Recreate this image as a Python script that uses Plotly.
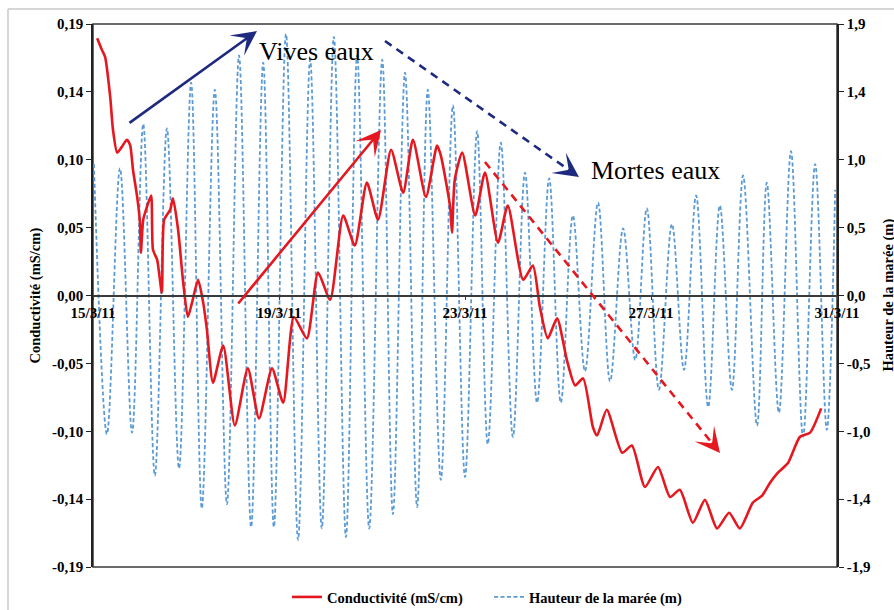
import numpy as np
import pandas as pd
import plotly.graph_objects as go

START = pd.Timestamp("2011-03-15")

# Tide height (m): successive high / low waters, time in days after 15/3/11
tide_day = [0.02, 0.30, 0.58, 0.84, 1.08, 1.33, 1.59, 1.85, 2.11, 2.34, 2.62, 2.88,
            3.14, 3.40, 3.66, 3.89, 4.15, 4.41, 4.67, 4.92, 5.18, 5.44, 5.68, 5.94,
            6.22, 6.45, 6.71, 6.97, 7.20, 7.48, 7.74, 8.00, 8.26, 8.49, 8.77, 9.03,
            9.29, 9.55, 9.81, 10.06, 10.32, 10.58, 10.86, 11.12, 11.40, 11.66, 11.91,
            12.17, 12.45, 12.71, 12.97, 13.23, 13.48, 13.74, 13.98, 14.28, 14.49,
            14.75, 15.01, 15.27, 15.53, 15.78, 15.96]
tide_m = [0.92, -0.97, 0.89, -0.96, 1.20, -1.26, 1.17, -1.21, 1.49, -1.49, 1.44, -1.46,
          1.68, -1.62, 1.63, -1.62, 1.83, -1.71, 1.65, -1.63, 1.81, -1.69, 1.68, -1.63,
          1.65, -1.53, 1.56, -1.48, 1.44, -1.29, 1.33, -1.27, 1.15, -1.04, 1.07, -0.99,
          0.86, -0.75, 0.82, -0.75, 0.56, -0.53, 0.65, -0.60, 0.47, -0.45, 0.61,
          -0.66, 0.50, -0.52, 0.70, -0.78, 0.63, -0.66, 0.84, -0.91, 0.79,
          -0.82, 1.01, -0.99, 0.92, -0.94, 0.74]

# Conductivity (mS/cm), time in days after 15/3/11
cond_day = [0.09, 0.19, 0.26, 0.37, 0.43, 0.52, 0.62, 0.73, 0.80, 0.86, 0.95, 1.01,
            1.03, 1.08, 1.16, 1.25, 1.29, 1.38, 1.48, 1.53, 1.66, 1.72, 1.83, 1.94,
            2.04, 2.13, 2.26, 2.37, 2.45, 2.58, 2.80, 3.05, 3.33, 3.57, 3.85, 4.09,
            4.32, 4.60, 4.84, 5.10, 5.38, 5.63, 5.89, 6.13, 6.41, 6.67, 6.88, 7.16,
            7.40, 7.48, 7.68, 7.72, 7.78, 7.94, 8.22, 8.43, 8.71, 8.92, 9.25, 9.46,
            9.61, 9.78, 9.98, 10.19, 10.37, 10.54, 10.75, 10.84, 11.05, 11.38, 11.59,
            11.87, 12.15, 12.41, 12.62, 12.90, 13.16, 13.42, 13.68, 13.91, 14.19,
            14.39, 14.56, 14.73, 14.95, 15.20, 15.42, 15.66]
cond_ms = [0.180, 0.172, 0.167, 0.139, 0.116, 0.100, 0.104, 0.109, 0.105, 0.088, 0.069, 0.051,
           0.030, 0.053, 0.062, 0.070, 0.032, 0.025, 0.002, 0.053, 0.060, 0.068, 0.046, 0.009,
           -0.015, -0.005, 0.011, -0.005, -0.024, -0.061, -0.035, -0.091, -0.051, -0.086, -0.051, -0.075,
           -0.015, -0.030, 0.016, -0.003, 0.056, 0.035, 0.079, 0.053, 0.102, 0.072, 0.109, 0.069,
           0.105, 0.098, 0.062, 0.044, 0.081, 0.100, 0.056, 0.086, 0.037, 0.063, 0.011, 0.021,
           -0.008, -0.030, -0.016, -0.045, -0.063, -0.058, -0.092, -0.098, -0.080, -0.110, -0.105,
           -0.134, -0.120, -0.141, -0.136, -0.159, -0.143, -0.163, -0.152, -0.163, -0.145,
           -0.140, -0.131, -0.124, -0.117, -0.099, -0.096, -0.079]

date_ticks = ["2011-03-15", "2011-03-19", "2011-03-23", "2011-03-27", "2011-03-31"]
date_labels = ["15/3/11", "19/3/11", "23/3/11", "27/3/11", "31/3/11"]
cond_labels = ["-0,19", "-0,14", "-0,10", "-0,05", "0,00", "0,05", "0,10", "0,14", "0,19"]
tide_labels = ["-1,9", "-1,4", "-1,0", "-0,5", "0,0", "0,5", "1,0", "1,4", "1,9"]

COND_MAX = 0.19
TIDE_MAX = 1.9

RED = "#e5171f"
BLUE = "#5b9bd5"
NAVY = "#1d2a80"
SERIF = "Liberation Serif"

W, H = 894, 610
L, R, T, B = 93, 837, 24, 567


def px(x):
    return (x - L) / (R - L)


def py(y):
    return (B - y) / (B - T)


tide_x = START + pd.to_timedelta(tide_day, unit="D")
cond_x = START + pd.to_timedelta(cond_day, unit="D")

fig = go.Figure()

# Tide on the base axis (drawn first), conductivity on the overlay axis (on top)
fig.add_trace(go.Scatter(
    x=tide_x, y=tide_m, yaxis="y", mode="lines", name="Hauteur de la marée (m)",
    line=dict(color=BLUE, width=1.8, dash="4px,2.5px", shape="spline", smoothing=1.0),
    legendrank=2,
))
fig.add_trace(go.Scatter(
    x=cond_x, y=cond_ms, yaxis="y2", mode="lines", name="Conductivité (mS/cm)",
    line=dict(color=RED, width=2.6, shape="spline", smoothing=0.6),
    legendrank=1,
))

tick_font = dict(family=SERIF, size=15, color="black", weight="bold")
label_font = dict(family=SERIF, size=14.5, color="black", weight="bold")

fig.update_layout(
    width=W, height=H,
    margin=dict(l=L, r=W - R, t=T, b=H - B, autoexpand=False),
    paper_bgcolor="white", plot_bgcolor="white",
    showlegend=True,
    legend=dict(orientation="h", x=px(287), xanchor="left", y=py(597), yanchor="middle",
                font=label_font, bgcolor="rgba(0,0,0,0)", itemwidth=30,
                entrywidth=157, entrywidthmode="pixels", traceorder="normal"),
    xaxis=dict(
        type="date", range=[START, START + pd.Timedelta(days=16)],
        anchor="free", position=0.5,
        showline=True, linecolor="#3a3a3a", linewidth=1.5,
        showgrid=False, zeroline=False,
        ticks="outside", ticklen=4, tickwidth=1.2, tickcolor="#3a3a3a",
        tickvals=date_ticks, ticktext=date_labels, tickfont=tick_font,
    ),
    xaxis3=dict(
        type="date", range=[START, START + pd.Timedelta(days=16)],
        overlaying="x", anchor="free", position=0.5,
        showline=False, showgrid=False, zeroline=False,
        ticks="inside", ticklen=4, tickwidth=1.2, tickcolor="#3a3a3a",
        tickvals=date_ticks, showticklabels=False,
    ),
    yaxis=dict(
        side="right", range=[-TIDE_MAX, TIDE_MAX],
        showline=True, linecolor="#222222", linewidth=1.5,
        showgrid=False, zeroline=False,
        ticks="outside", ticklen=5, tickwidth=1.2, tickcolor="#222222",
        tickvals=list(np.linspace(-TIDE_MAX, TIDE_MAX, 9)), ticktext=tide_labels,
        tickfont=tick_font,
    ),
    yaxis2=dict(
        side="left", overlaying="y", range=[-COND_MAX, COND_MAX],
        showline=True, linecolor="#222222", linewidth=1.5,
        showgrid=False, zeroline=False,
        ticks="outside", ticklen=5, tickwidth=1.2, tickcolor="#222222",
        tickvals=list(np.linspace(-COND_MAX, COND_MAX, 9)), ticktext=cond_labels,
        tickfont=tick_font,
    ),
)

shapes = [
    # plot frame
    dict(type="rect", xref="paper", yref="paper", x0=0, y0=0, x1=1, y1=1,
         line=dict(color="#3a3a3a", width=1.5), layer="below"),
    # outer chart border (left and top edges)
    dict(type="line", xref="paper", yref="paper", x0=px(8), x1=px(8), y0=py(H + 5), y1=py(9),
         line=dict(color="#c8c8c8", width=1.5)),
    dict(type="line", xref="paper", yref="paper", x0=px(8), x1=px(W + 5), y0=py(9), y1=py(9),
         line=dict(color="#c8c8c8", width=1.5)),
]

annotations = []


def arrow(x0, y0, x1, y1, color, dashed):
    """Arrow from pixel (x0, y0) to the tip at (x1, y1)."""
    dx, dy = x1 - x0, y1 - y0
    n = np.hypot(dx, dy)
    ux, uy = dx / n, dy / n
    if dashed:
        shapes.append(dict(type="line", xref="paper", yref="paper",
                           x0=px(x0), y0=py(y0), x1=px(x1 - ux * 16), y1=py(y1 - uy * 16),
                           line=dict(color=color, width=2.6, dash="8px,6px")))
        ax, ay = -ux * 14, -uy * 14
    else:
        ax, ay = -dx, -dy
    annotations.append(dict(x=px(x1), y=py(y1), xref="paper", yref="paper",
                            ax=ax, ay=ay, axref="pixel", ayref="pixel", text="",
                            showarrow=True, arrowhead=3, arrowsize=1.6, arrowwidth=2.6,
                            arrowcolor=color, standoff=0))


arrow(128, 124, 257, 31, NAVY, False)
arrow(385, 41, 579, 177, NAVY, True)
arrow(237, 305, 381, 130, RED, False)
arrow(485, 162, 720, 453, RED, True)

annotations += [
    dict(text="Vives eaux", x=px(257), y=py(52), xref="paper", yref="paper",
         xanchor="left", yanchor="middle", showarrow=False,
         font=dict(family=SERIF, size=26, color="black")),
    dict(text="Mortes eaux", x=px(589), y=py(170), xref="paper", yref="paper",
         xanchor="left", yanchor="middle", showarrow=False,
         font=dict(family=SERIF, size=26, color="black")),
    dict(text="Conductivité (mS/cm)", x=px(35), y=0.5, xref="paper", yref="paper",
         textangle=-90, showarrow=False, xanchor="center", yanchor="middle",
         font=label_font),
    dict(text="Hauteur de la marée (m)", x=px(888), y=0.5, xref="paper", yref="paper",
         textangle=-90, showarrow=False, xanchor="center", yanchor="middle",
         font=label_font),
]

fig.update_layout(shapes=shapes, annotations=annotations)

fig.write_html("out.html")
